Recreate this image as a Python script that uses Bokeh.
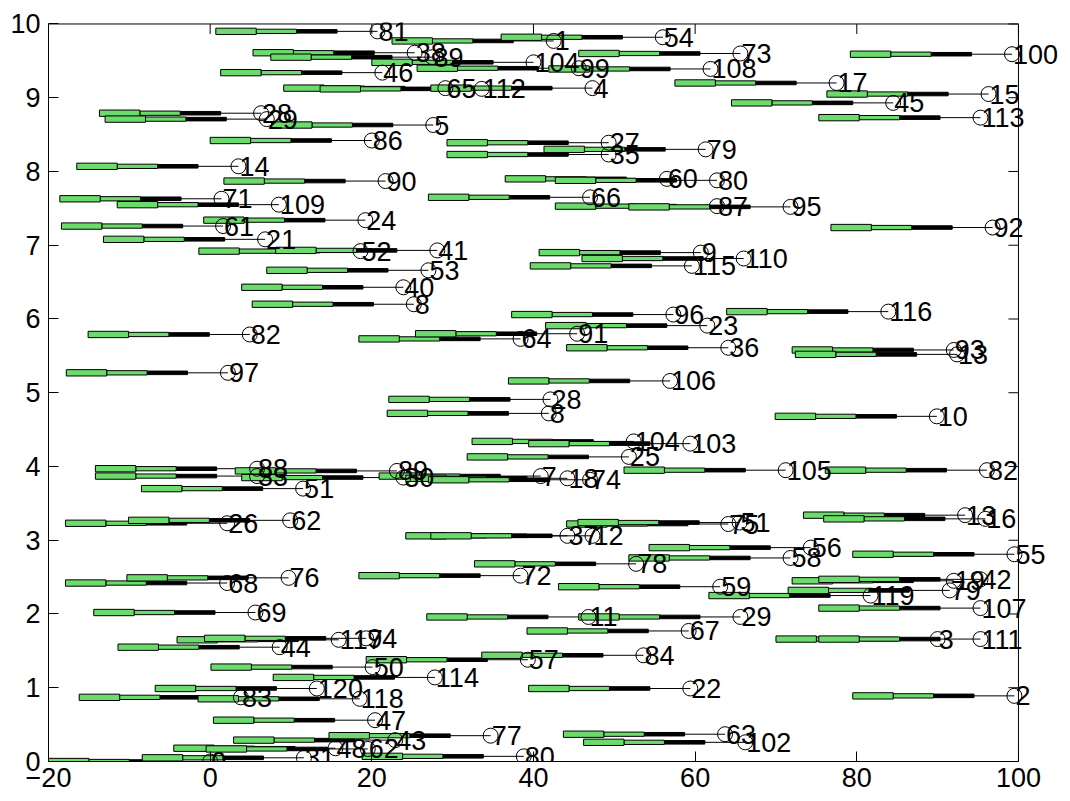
import numpy as np
from bokeh.plotting import figure
from bokeh.models import ColumnDataSource, LabelSet, FixedTicker, Range1d
from bokeh.core.properties import value
from bokeh.embed import file_html
from bokeh.resources import INLINE

labels = ["81", "1", "54", "38", "89", "104", "99", "73", "100", "108",
          "46", "65", "112", "4", "17", "15", "45", "113", "28", "29",
          "5", "86", "27", "35", "79", "14", "90", "60", "80", "66",
          "71", "109", "87", "95", "24", "92", "61", "21", "52", "41",
          "9", "110", "115", "53", "40", "8", "116", "96", "23", "91",
          "82", "64", "36", "93", "13", "97", "106", "28", "8", "10",
          "104", "103", "25", "105", "82", "88", "33", "89", "30", "7",
          "18", "74", "51", "26", "62", "13", "16", "75", "51", "37",
          "12", "56", "55", "58", "78", "72", "76", "68", "19", "42",
          "79", "59", "119", "107", "69", "11", "29", "67", "117", "94",
          "44", "3", "111", "84", "57", "50", "114", "22", "120", "118",
          "83", "2", "47", "77", "43", "63", "102", "48", "62", "80",
          "31", "0"]
xs = [20.7, 42.5, 56.0, 25.3, 27.5, 40.0, 45.6, 65.6, 99.2, 61.9,
      21.3, 29.1, 33.6, 47.3, 77.5, 96.3, 84.5, 95.3, 6.3, 7.0,
      27.6, 20.0, 49.3, 49.3, 61.3, 3.5, 21.7, 56.5, 62.7, 47.0,
      1.4, 8.5, 62.7, 71.8, 19.2, 96.8, 1.6, 6.8, 18.6, 28.1,
      60.7, 66.0, 59.6, 27.0, 23.9, 25.2, 83.9, 57.3, 61.5, 45.4,
      4.9, 38.4, 64.1, 92.0, 92.4, 2.2, 56.9, 42.1, 41.9, 89.9,
      52.4, 59.4, 51.8, 71.2, 96.1, 5.8, 5.8, 23.1, 23.9, 40.9,
      44.2, 47.0, 11.5, 2.1, 9.9, 93.4, 95.9, 64.1, 65.5, 44.2,
      47.3, 74.3, 99.5, 71.8, 52.7, 38.4, 9.7, 2.1, 92.0, 95.3,
      91.5, 63.1, 81.7, 95.3, 5.6, 46.8, 65.6, 59.2, 15.9, 19.3,
      8.6, 90.0, 95.3, 53.6, 39.3, 20.1, 27.8, 59.4, 13.2, 18.5,
      3.8, 99.5, 20.4, 34.7, 22.9, 63.7, 66.2, 15.5, 19.5, 38.8,
      11.6, 0.0]
ys = [9.90, 9.77, 9.82, 9.61, 9.55, 9.48, 9.40, 9.60, 9.59, 9.39,
      9.34, 9.13, 9.12, 9.13, 9.20, 9.05, 8.93, 8.73, 8.79, 8.71,
      8.63, 8.42, 8.39, 8.23, 8.30, 8.07, 7.87, 7.90, 7.88, 7.65,
      7.63, 7.55, 7.53, 7.52, 7.34, 7.24, 7.26, 7.08, 6.92, 6.93,
      6.90, 6.82, 6.72, 6.66, 6.43, 6.20, 6.10, 6.06, 5.91, 5.80,
      5.79, 5.73, 5.61, 5.58, 5.52, 5.27, 5.16, 4.91, 4.72, 4.68,
      4.34, 4.31, 4.13, 3.95, 3.95, 3.97, 3.87, 3.94, 3.85, 3.87,
      3.84, 3.82, 3.70, 3.23, 3.27, 3.34, 3.29, 3.22, 3.24, 3.06,
      3.06, 2.90, 2.81, 2.76, 2.68, 2.52, 2.49, 2.42, 2.45, 2.47,
      2.32, 2.37, 2.25, 2.08, 2.02, 1.96, 1.96, 1.77, 1.65, 1.67,
      1.55, 1.66, 1.66, 1.44, 1.38, 1.28, 1.14, 0.99, 0.99, 0.85,
      0.87, 0.89, 0.56, 0.35, 0.29, 0.37, 0.26, 0.18, 0.17, 0.07,
      0.05, 0.00]

x_ticks = [-20, 0, 20, 40, 60, 80, 100]
y_ticks = [0, 1, 2, 3, 4, 5, 6, 7, 8, 9, 10]
x_lim = [-20, 100]
y_lim = [0, 10]

FONT = "Liberation Sans"
GREEN = "#6BDB6B"

# frame geometry (pixels)
FRAME_L, FRAME_T = 48, 22
W, H = 1062, 800
BORDER_B = 39
PX_PER_X = 8.083
X_MAX = x_lim[0] + (W - 2 - FRAME_L) / PX_PER_X   # extra room for labels on the right
Y_MAX = y_lim[1] + 0.02
PX_PER_Y = (H - FRAME_T - BORDER_B) / (Y_MAX - y_lim[0])
TICK = 10

x = np.array(xs)
y = np.array(ys)
src = ColumnDataSource(dict(
    x=x, y=y, lab=labels,
    x0=x - 20, x1=x - 15, x2=x - 10, x3=x - 5,
    ya_t=y + 0.043, ya_b=y - 0.043,
    yb_t=y + 0.029, yb_b=y - 0.029,
    yc_t=y + 0.024, yc_b=y - 0.024,
))

p = figure(width=W, height=H, output_backend="svg", toolbar_location=None,
           x_range=Range1d(x_lim[0], X_MAX), y_range=Range1d(y_lim[0], Y_MAX),
           min_border_left=FRAME_L, min_border_right=2, min_border_top=FRAME_T,
           min_border_bottom=BORDER_B)
p.background_fill_color = "white"
p.border_fill_color = "white"
p.outline_line_color = None
p.xgrid.visible = False
p.ygrid.visible = False

# box: top and right edges plus inward ticks there
xt = np.array(x_ticks, dtype=float)
yt = np.array(y_ticks, dtype=float)
p.segment(x0=[x_lim[0], x_lim[1]], y0=[y_lim[1], y_lim[0]],
          x1=[x_lim[1], x_lim[1]], y1=[y_lim[1], y_lim[1]],
          line_color="black", line_width=1)
p.segment(x0=xt, y0=np.full(len(xt), y_lim[1]), x1=xt,
          y1=np.full(len(xt), y_lim[1] - TICK / PX_PER_Y), line_color="black", line_width=1)
p.segment(x0=np.full(len(yt), x_lim[1]), y0=yt,
          x1=np.full(len(yt), x_lim[1] - TICK / PX_PER_X), y1=yt, line_color="black", line_width=1)

# connecting line
p.segment(x0="x0", y0="y", x1="x", y1="y", source=src, line_color="black", line_width=1)
# black bar
p.quad(left="x2", right="x3", bottom="yc_b", top="yc_t", source=src,
       fill_color="black", line_color="black", line_width=1)
# thinner green box
p.quad(left="x1", right="x2", bottom="yb_b", top="yb_t", source=src,
       fill_color=GREEN, line_color="black", line_width=1)
# thick green box
p.quad(left="x0", right="x1", bottom="ya_b", top="ya_t", source=src,
       fill_color=GREEN, line_color="black", line_width=1)
# markers
p.scatter(x="x", y="y", source=src, marker="circle", size=15,
          fill_color=None, line_color="black", line_width=1)

labs = LabelSet(x="x", y="y", text="lab", source=src, text_font=value(FONT),
                text_font_size="27px", text_color="black", text_baseline="middle",
                text_align="left", x_offset=1)
p.add_layout(labs)

for ax in (p.xaxis[0], p.yaxis[0]):
    ax.major_label_text_font = FONT
    ax.major_label_text_font_size = "27px"
    ax.major_label_text_color = "black"
    ax.major_tick_in = TICK
    ax.major_tick_out = 0
    ax.minor_tick_in = 0
    ax.minor_tick_out = 0
    ax.axis_line_color = "black"
    ax.major_tick_line_color = "black"
p.xaxis[0].ticker = FixedTicker(ticks=x_ticks)
p.yaxis[0].ticker = FixedTicker(ticks=y_ticks)
p.xaxis[0].bounds = (x_lim[0], x_lim[1])
p.yaxis[0].bounds = (y_lim[0], y_lim[1])
p.xaxis[0].major_label_standoff = 6
p.yaxis[0].major_label_standoff = 8

open("out.html", "w").write(file_html(p, INLINE))
